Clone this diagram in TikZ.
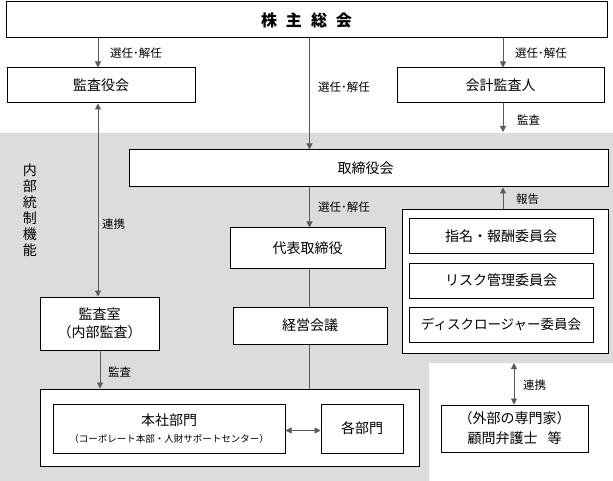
\documentclass[tikz,border=0pt]{standalone}
\usepackage{fontspec}
\setmainfont{Noto Sans CJK JP}
\usetikzlibrary{arrows.meta}
\definecolor{bggray}{RGB}{220,220,220}
\definecolor{linegray}{RGB}{90,90,90}
\tikzset{
  box/.style={draw=black, line width=1pt, fill=white, inner sep=0pt, font=\fontsize{14}{18}\selectfont, align=center},
  arr/.style={draw=linegray, line width=0.8pt, -{Triangle[length=6pt,width=6pt]}},
  darr/.style={draw=linegray, line width=0.8pt, {Triangle[length=6pt,width=6pt]}-{Triangle[length=6pt,width=6pt]}},
  plain/.style={draw=linegray, line width=0.8pt},
  lbl/.style={anchor=west, inner sep=0pt, font=\fontsize{11.5}{13}\selectfont}
}
\begin{document}
\begin{tikzpicture}[x=1pt,y=-1pt]
\useasboundingbox (0,0) rectangle (613,481);
% grey internal-control area
\fill[bggray] (0,133) -- (613,133) -- (613,363) -- (429,363) -- (429,481) -- (0,481) -- cycle;

% x positions of vertical connectors
\coordinate (xA) at (98,0);
\coordinate (xB) at (309.5,0);
\coordinate (xC) at (503,0);
\coordinate (xD) at (100,0);
\coordinate (xE) at (514,0);
\coordinate (kaikeiEnd) at (503,132);
\coordinate (extTop) at (514,363);

% nodes
\node[box, minimum width=601, minimum height=36, font=\fontsize{16}{18}\selectfont\bfseries] (top) at (306.5,20) {株\hspace{9pt}主\hspace{9pt}総\hspace{9pt}会};
\node[box, minimum width=188, minimum height=35] (kansayaku) at (101,85.5) {監査役会};
\node[box, minimum width=207, minimum height=35] (kaikei) at (500.5,85.5) {会計監査人};
\node[box, minimum width=479, minimum height=37] (torishimari) at (368.5,168.5) {\hspace{-6pt}取締役会};
\node[box, minimum width=155, minimum height=40] (daihyo) at (307.5,248) {代表取締役};
\node[box, minimum width=154, minimum height=37] (keiei) at (310,325.5) {経営会議};
\node[box, minimum width=206, minimum height=143] (container) at (505,281.5) {};
\node[box, minimum width=184, minimum height=34] (iin1) at (501,236) {指名・報酬委員会};
\node[box, minimum width=184, minimum height=35] (iin2) at (501,280.5) {リスク管理委員会};
\node[box, minimum width=184, minimum height=35, font=\fontsize{13.5}{18}\selectfont] (iin3) at (501,324.5) {ディスクロージャー委員会};
\node[box, minimum width=119, minimum height=53, font=\fontsize{14}{18}\selectfont] (kansashitsu) at (99.5,323.5) {監査室\\（内部監査）};
\node[box, minimum width=379, minimum height=77] (bigbox) at (229.5,427.5) {};
\node[box, minimum width=232, minimum height=49, font=\fontsize{14}{17}\selectfont] (honsha) at (169,428.5) {本社部門\\{\fontsize{9.5}{11}\selectfont（コーポレート本部・人財サポートセンター）}};
\node[box, minimum width=82, minimum height=49] (kakubumon) at (362,428.5) {各部門};
\node[box, minimum width=147, minimum height=47, font=\fontsize{14}{20}\selectfont] (external) at (514.5,428.5) {（外部の専門家）\\顧問弁護士\hspace{10pt}等};
\node[inner sep=0pt, align=center, font=\fontsize{14}{16}\selectfont] (naibu) at (30,210) {内\\部\\統\\制\\機\\能};

% connectors
\draw[arr] (top.south -| xA) -- (kansayaku.north -| xA);
\draw[arr] (top.south -| xC) -- (kaikei.north -| xC);
\draw[arr] (top.south -| xB) -- (torishimari.north -| xB);
\draw[arr] (kaikei.south -| xC) -- (kaikeiEnd);
\draw[darr] (kansayaku.south -| xA) -- (kansashitsu.north -| xA);
\draw[arr] (torishimari.south -| xB) -- (daihyo.north -| xB);
\draw[plain] (daihyo.south -| xB) -- (keiei.north -| xB);
\draw[plain] (keiei.south -| xB) -- (bigbox.north -| xB);
\draw[arr] (container.north -| xC) -- (torishimari.south -| xC);
\draw[arr] (kansashitsu.south -| xD) -- (bigbox.north -| xD);
\draw[darr] ([yshift=-2pt]honsha.east) -- ([yshift=-2pt]kakubumon.west);
\draw[darr] (extTop) -- (external.north -| xE);

% labels
\node[lbl] (l1) at (110,53) {選任･解任};
\node[lbl] (l2) at (515,53) {選任･解任};
\node[lbl] (l3) at (318,87) {選任･解任};
\node[lbl] (l4) at (517,120) {監査};
\node[lbl] (l5) at (102,224) {連携};
\node[lbl] (l6) at (318,207) {選任･解任};
\node[lbl] (l7) at (516,199) {報告};
\node[lbl] (l8) at (108,372) {監査};
\node[lbl] (l9) at (523,385) {連携};
\end{tikzpicture}
\end{document}
